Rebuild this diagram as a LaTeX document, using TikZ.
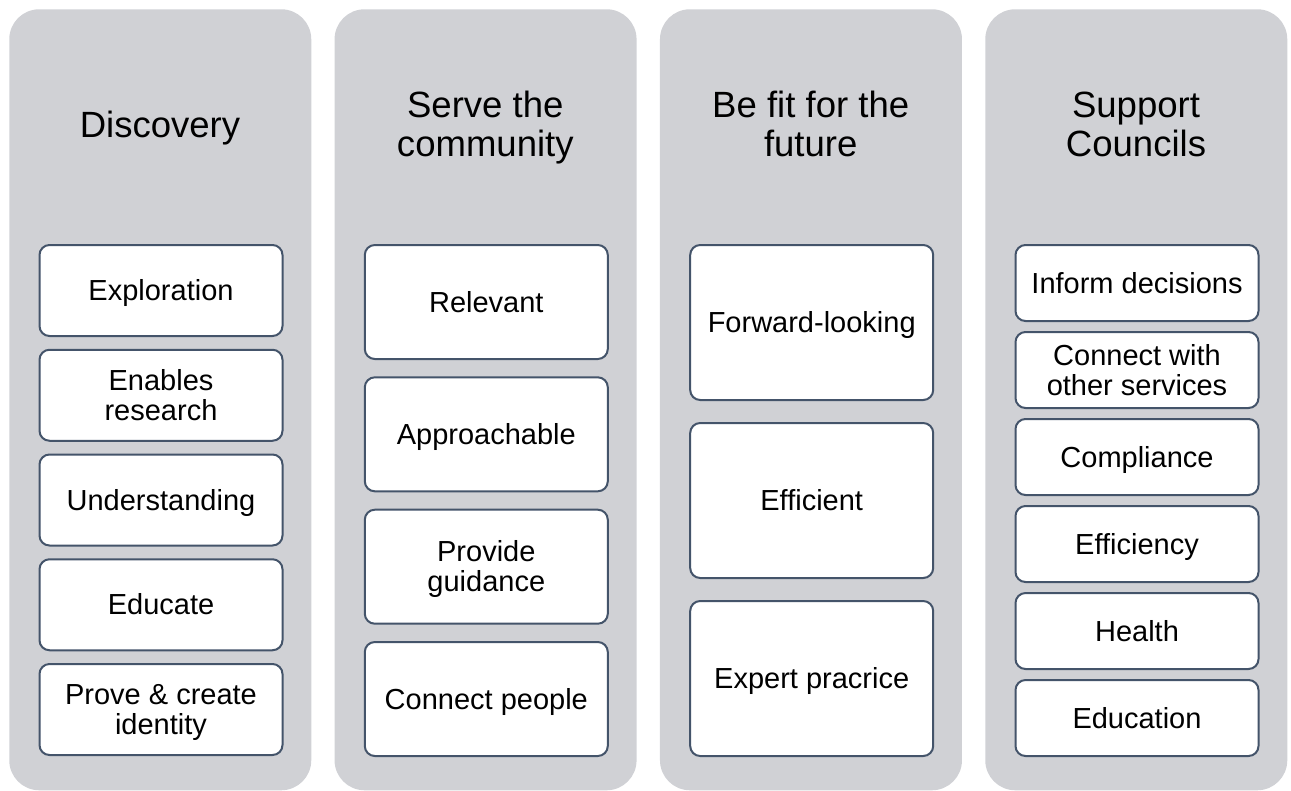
\documentclass[tikz,border=0pt]{standalone}
\usepackage{fontspec}
\setmainfont{Liberation Sans}
\definecolor{colfill}{HTML}{D0D1D5}
\definecolor{boxline}{HTML}{44546A}
\newcommand\ls{\rule[-0.212em]{0pt}{1.117em}}
\tikzset{
  column/.style={fill=colfill, rounded corners=22.5pt, anchor=north west,
    minimum width=226.5pt, minimum height=585.75pt, inner sep=0pt},
  title/.style={align=center, inner sep=0pt, text=black,
    font={\fontsize{27.4}{28.9}\selectfont\lineskiplimit=-\maxdimen}},
  item/.style={draw=boxline, line width=1.5pt, fill=white, rounded corners=7.5pt,
    anchor=north west, minimum width=182.25pt, inner sep=0pt, align=center,
    font={\fontsize{21.75}{22.5}\selectfont\lineskiplimit=-\maxdimen}},
  itemA/.style={item, minimum height=68.25pt},
  itemB/.style={item, minimum height=85.5pt},
  itemC/.style={item, minimum height=116.25pt},
  itemD/.style={item, minimum height=57pt}
}
\begin{document}
\begin{tikzpicture}[x=0.75pt, y=-0.75pt]
\useasboundingbox (0,0) rectangle (1291,790);
% columns
\node[column] (c1) at (9,9) {};
\node[column] (c2) at (334.3,9) {};
\node[column] (c3) at (659.7,9) {};
\node[column] (c4) at (985,9) {};
% titles
\node[title] (t1) at (160,124.5) {\ls Discovery};
\node[title] (t2) at (485.3,124.5) {\ls Serve the\\\ls community};
\node[title] (t3) at (810.7,124.5) {\ls Be fit for the\\\ls future};
\node[title] (t4) at (1136,124.5) {\ls Support\\\ls Councils};
% column 1
\node[itemA] (a1) at (38.5,244) {\ls Exploration};
\node[itemA] (a2) at (38.5,348.75) {\ls Enables\\\ls research};
\node[itemA] (a3) at (38.5,453.5) {\ls Understanding};
\node[itemA] (a4) at (38.5,558.25) {\ls Educate};
\node[itemA] (a5) at (38.5,663) {\ls Prove \& create\\\ls identity};
% column 2
\node[itemB] (b1) at (363.8,244) {\ls Relevant};
\node[itemB] (b2) at (363.8,376.3) {\ls Approachable};
\node[itemB] (b3) at (363.8,508.7) {\ls Provide\\\ls guidance};
\node[itemB] (b4) at (363.8,641) {\ls Connect people};
% column 3
\node[itemC] (d1) at (689.2,244) {\ls Forward-looking};
\node[itemC] (d2) at (689.2,422) {\ls Efficient};
\node[itemC] (d3) at (689.2,600) {\ls Expert pracrice};
% column 4
\node[itemD] (e1) at (1014.5,244) {\ls Inform decisions};
\node[itemD] (e2) at (1014.5,331) {\ls Connect with\\\ls other services};
\node[itemD] (e3) at (1014.5,418) {\ls Compliance};
\node[itemD] (e4) at (1014.5,505) {\ls Efficiency};
\node[itemD] (e5) at (1014.5,592) {\ls Health};
\node[itemD] (e6) at (1014.5,679) {\ls Education};
\end{tikzpicture}
\end{document}
